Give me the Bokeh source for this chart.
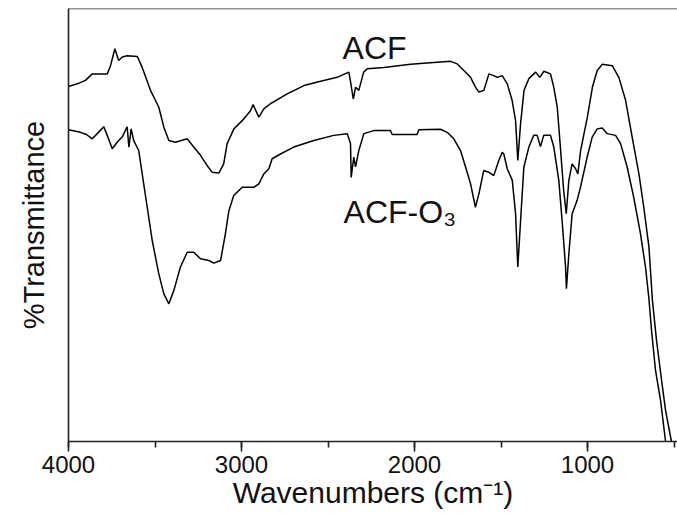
from bokeh.plotting import figure
from bokeh.models import Range1d, SingleIntervalTicker, FixedTicker, Span
from bokeh.core.properties import value
from bokeh.embed import file_html
from bokeh.resources import INLINE

# ---- data ----
acf_wn = [4000, 3949, 3902, 3863, 3776, 3757, 3732, 3710, 3689, 3661, 3602, 3574, 3526, 3478, 3449,
          3420, 3382, 3314, 3276, 3237, 3198, 3170, 3131, 3103, 3083, 3044, 2996, 2948, 2933, 2900,
          2871, 2833, 2736, 2639, 2543, 2447, 2380, 2371, 2354, 2341, 2322, 2294, 2273, 2177, 2023,
          1869, 1792, 1753, 1715, 1676, 1647, 1628, 1599, 1570, 1542, 1521, 1493, 1464, 1436, 1416,
          1403, 1387, 1367, 1339, 1300, 1276, 1252, 1214, 1195, 1175, 1157, 1138, 1123, 1108, 1089,
          1069, 1056, 1040, 1001, 972, 944, 915, 857, 819, 780, 742, 703, 675, 645, 625,
          601, 572, 549, 515, 503]
acf_t = [82.0, 82.6, 83.4, 84.9, 84.9, 86.8, 90.7, 88.0, 88.8, 89.1, 88.9, 86.4, 81.1, 77.2, 72.6,
         69.5, 69.1, 69.9, 68.0, 66.1, 63.7, 62.2, 62.0, 64.1, 68.8, 72.2, 74.1, 76.4, 77.8, 74.9,
         76.8, 78.0, 80.3, 82.2, 83.2, 84.1, 85.3, 83.4, 79.1, 81.8, 81.1, 85.3, 86.1, 86.4, 87.1,
         87.6, 87.8, 87.2, 85.7, 84.1, 81.8, 80.7, 81.1, 84.9, 84.5, 84.1, 84.5, 82.6, 78.8, 74.1,
         64.9, 73.4, 81.1, 83.8, 85.3, 84.1, 85.5, 84.9, 81.8, 77.2, 68.0, 58.0, 52.6, 60.3, 64.1,
         63.0, 61.8, 67.2, 74.9, 81.8, 85.7, 87.1, 86.8, 84.1, 78.8, 70.3, 61.8, 54.1, 44.9, 32.6,
         23.3, 14.1, 7.2, 0.0, -3.2]

acfo3_wn = [4000, 3931, 3896, 3863, 3834, 3796, 3776, 3747, 3719, 3690, 3661, 3651, 3638, 3623, 3594,
            3574, 3545, 3516, 3478, 3449, 3420, 3391, 3353, 3314, 3276, 3237, 3189, 3160, 3121, 3093,
            3073, 3045, 2996, 2929, 2900, 2871, 2842, 2823, 2775, 2698, 2582, 2467, 2389, 2370, 2366,
            2351, 2341, 2322, 2293, 2235, 2139, 2129, 1985, 1975, 1850, 1811, 1773, 1734, 1705, 1676,
            1648, 1628, 1600, 1571, 1542, 1513, 1493, 1484, 1464, 1435, 1416, 1403, 1387, 1368, 1339,
            1311, 1291, 1272, 1253, 1214, 1195, 1166, 1147, 1127, 1122, 1108, 1089, 1060, 1041, 1002,
            973, 944, 915, 886, 838, 809, 771, 733, 694, 665, 646, 630, 607, 578, 549, 538]
acfo3_t = [72.0, 71.4, 70.9, 69.9, 71.1, 72.7, 70.7, 67.6, 69.1, 70.3, 72.7, 68.0, 72.2, 69.5, 67.2,
           61.8, 54.1, 46.4, 38.7, 34.1, 31.8, 34.9, 40.3, 43.7, 43.7, 42.2, 41.8, 41.2, 41.8, 48.0,
           53.3, 56.8, 58.7, 58.7, 59.5, 61.8, 63.0, 65.3, 66.4, 68.0, 69.5, 70.7, 71.1, 68.8, 61.0,
           65.7, 63.4, 67.2, 71.1, 71.8, 71.8, 70.9, 70.9, 72.0, 72.1, 71.4, 69.9, 67.2, 63.4, 59.5,
           54.1, 57.2, 62.6, 62.2, 61.4, 64.9, 66.8, 66.4, 63.0, 60.3, 52.6, 40.3, 51.0, 63.4, 68.0,
           70.7, 70.7, 68.1, 70.7, 70.7, 68.0, 60.3, 51.0, 40.3, 35.3, 43.3, 52.6, 55.7, 58.7, 65.7,
           70.3, 72.2, 72.4, 71.1, 70.7, 68.8, 63.4, 56.4, 48.0, 40.3, 33.3, 25.6, 16.4, 9.5, 0.0, -3.2]

label_text = ["ACF", "ACF-O\u2083"]
label_wn = [2416, 2410]
label_t = [90.8, 52.9]

FONT = "Liberation Sans"

p = figure(width=677, height=520, output_backend="svg", toolbar_location=None,
           x_range=Range1d(4000, 480), y_range=Range1d(0, 100),
           min_border_left=68, min_border_right=0, min_border_top=8, min_border_bottom=79,
           background_fill_color="white", border_fill_color="white")
p.outline_line_color = None
p.xgrid.visible = False
p.ygrid.visible = False

p.line(acf_wn, acf_t, line_color="black", line_width=1.5)
p.line(acfo3_wn, acfo3_t, line_color="black", line_width=1.5)

p.text(x=label_wn, y=label_t, text=label_text, text_font=value(FONT),
       text_font_size="32px", text_color="#111111", text_align="left",
       text_baseline="alphabetic")

# top frame line
p.add_layout(Span(location=100, dimension="width", line_color="#222222", line_width=1.6))

xa = p.xaxis[0]
xa.ticker = SingleIntervalTicker(interval=1000, num_minor_ticks=2)
xa.axis_label = "Wavenumbers (cm\u207b\u00b9)"
xa.axis_line_color = "#222222"
xa.axis_line_width = 1.6
xa.major_tick_line_color = "#222222"
xa.major_tick_line_width = 1.6
xa.major_tick_out = 10
xa.major_tick_in = 0
xa.minor_tick_line_color = "#222222"
xa.minor_tick_line_width = 1.6
xa.minor_tick_out = 6
xa.minor_tick_in = 0
xa.major_label_text_font = FONT
xa.major_label_text_font_size = "24px"
xa.major_label_text_color = "#111111"
xa.major_label_standoff = 4
xa.axis_label_text_font = FONT
xa.axis_label_text_font_size = "30px"
xa.axis_label_text_font_style = "normal"
xa.axis_label_text_color = "#111111"
xa.axis_label_standoff = 0

ya = p.yaxis[0]
ya.ticker = FixedTicker(ticks=[])
ya.axis_label = "%Transmittance"
ya.axis_line_color = "#222222"
ya.axis_line_width = 1.6
ya.major_tick_out = 0
ya.major_tick_in = 0
ya.minor_tick_out = 0
ya.minor_tick_in = 0
ya.major_label_standoff = 0
ya.axis_label_text_font = FONT
ya.axis_label_text_font_size = "29px"
ya.axis_label_text_font_style = "normal"
ya.axis_label_text_color = "#111111"
ya.axis_label_standoff = 19

open("out.html", "w").write(file_html(p, INLINE))
